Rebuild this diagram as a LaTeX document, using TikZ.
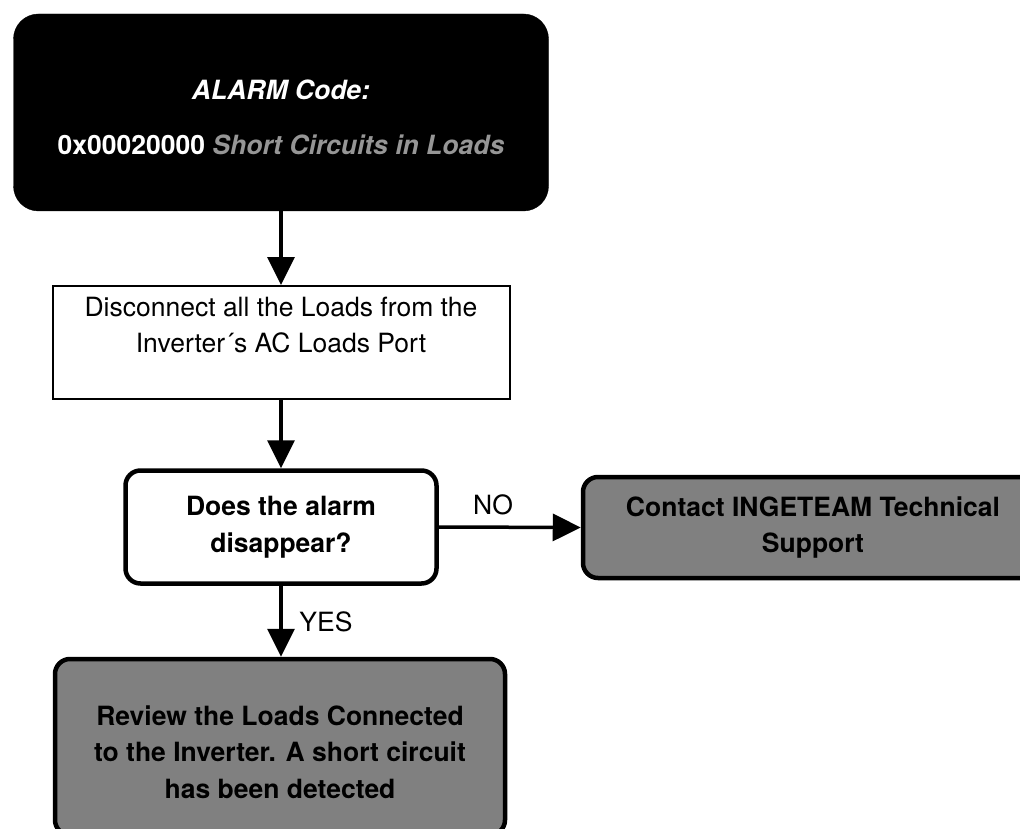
\documentclass[tikz,border=0pt]{standalone}
\usepackage{fontspec}
\setmainfont{TeX Gyre Heros}
\usetikzlibrary{arrows.meta}
\definecolor{boxgray}{RGB}{128,128,128}
\definecolor{codegray}{RGB}{150,150,150}
\begin{document}
\begin{tikzpicture}[x=1pt,y=-1pt,
  txt/.style={font=\fontsize{26.5}{36}\selectfont, align=center, inner sep=0pt},
  btxt/.style={txt, font=\fontsize{26.5}{36.5}\selectfont\bfseries},
  flow/.style={line width=3.5pt, -{Triangle[width=27pt,length=28pt]}},
  alarmbox/.style={draw=black, fill=black, rounded corners=25pt, inner sep=0pt},
  stepbox/.style={draw=black, fill=white, line width=2pt, inner sep=0pt},
  askbox/.style={draw=black, fill=white, line width=4.5pt, rounded corners=15pt, inner sep=0pt},
  endbox/.style={draw=black, fill=boxgray, line width=4.5pt, rounded corners=15pt, inner sep=0pt}]
\clip (0,0) rectangle (1020,829);

% alarm header
\node[alarmbox, minimum width=535pt, minimum height=197pt] (alarm) at (281,112.5) {};
\node[btxt, text=white] (alarmtxt) at (281,117.5)
  {\textit{ALARM Code:}\\[18.5pt]0x00020000 {\color{codegray}\textit{Short Circuits in Loads}}};

% first action
\node[stepbox, minimum width=457pt, minimum height=113pt] (disc) at (281,342.5) {};
\node[txt] (disctxt) at (281,325)
  {Disconnect all the Loads from the\\Inverter\textasciiacute s AC Loads Port};

% decision
\node[askbox, minimum width=311pt, minimum height=113pt, btxt] (ask) at (281,527)
  {Does the alarm\\disappear?};

% outcomes
\node[endbox, minimum width=460pt, minimum height=101pt, btxt] (support) at (813,527.5)
  {Contact INGETEAM Technical\\Support};
\node[endbox, minimum width=450pt, minimum height=176pt] (review) at (280,747) {};
\node[btxt] (reviewtxt) at (280,752)
  {Review the Loads Connected\\to the Inverter. A short circuit\\has been detected};

% connectors
\draw[flow] (alarm.south) -- (disc.north);
\draw[flow] (disc.south) -- (ask.north);
\draw[flow] (ask.east) -- (support.west);
\draw[flow] (ask.south) -- (ask.south |- review.north);

% branch labels
\node[txt] (nolbl) at (493,505) {NO};
\node[txt] (yeslbl) at (326,622) {YES};
\end{tikzpicture}
\end{document}
